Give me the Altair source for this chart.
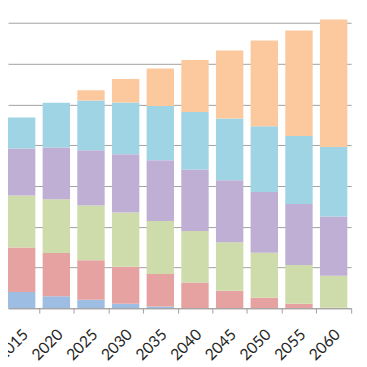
import altair as alt
import pandas as pd

years = [2010, 2015, 2020, 2025, 2030, 2035, 2040, 2045, 2050, 2055, 2060]
blue = [5.0, 4.0, 2.95, 2.1, 1.1, 0.4, 0.0, 0.0, 0.0, 0.0, 0.0]
red = [11.3, 10.9, 10.6, 9.7, 9.1, 8.0, 6.3, 4.3, 2.6, 1.1, 0.1]
green = [12.5, 12.8, 13.2, 13.4, 13.3, 13.0, 12.65, 11.9, 11.0, 9.5, 7.85]
purple = [10.8, 11.5, 12.7, 13.6, 14.3, 14.95, 15.1, 15.2, 14.95, 15.0, 14.55]
cyan = [5.0, 7.6, 11.0, 12.2, 12.7, 13.3, 14.1, 15.2, 16.1, 16.7, 17.1]
orange = [0.0, 0.0, 0.0, 2.5, 5.75, 9.2, 12.8, 16.65, 21.05, 25.85, 31.3]

series_names = ["s1", "s2", "s3", "s4", "s5", "s6"]
series_values = [blue, red, green, purple, cyan, orange]
series_colors = ["#9dbde3", "#e6a2a1", "#cddcaa", "#bfafd4", "#9ed4e3", "#fcc99e"]

rows = []
for k, (name, vals) in enumerate(zip(series_names, series_values)):
    for yr, v in zip(years, vals):
        rows.append({"year": yr, "series": name, "order": k, "value": v})
df = pd.DataFrame(rows)

grid_values = [0, 10, 20, 30, 40, 50, 60, 70]

chart = (
    alt.Chart(df)
    .transform_stack(
        stack="value",
        groupby=["year"],
        as_=["v0", "v1"],
        sort=[alt.SortField("order", order="ascending")],
    )
    .transform_calculate(x0="datum.year - 1.975", x1="datum.year + 1.975")
    .mark_bar(clip=True)
    .encode(
        x=alt.X(
            "x0:Q",
            scale=alt.Scale(domain=[2013.03, 2062.53], nice=False, zero=False),
            axis=alt.Axis(
                values=years[1:],
                format="d",
                title=None,
                grid=False,
                domainColor="#a0a0a0",
                tickColor="#a0a0a0",
                tickSize=5,
                tickOffset=17.75,
                labelOffset=-14,
                labelAngle=-45,
                labelAlign="right",
                labelBaseline="middle",
                labelPadding=19,
                labelFont="Lato",
                labelFontSize=16,
                labelColor="#262626",
                labelOverlap=False,
                labelFlush=False,
                labelBound=False,
            ),
        ),
        x2="x1:Q",
        y=alt.Y(
            "v0:Q",
            scale=alt.Scale(domain=[0, 72.72], nice=False),
            axis=alt.Axis(
                values=grid_values,
                grid=True,
                gridColor="#a0a0a0",
                gridWidth=1,
                labels=False,
                ticks=False,
                domain=False,
                title=None,
            ),
        ),
        y2="v1:Q",
        color=alt.Color(
            "series:N",
            scale=alt.Scale(domain=series_names, range=series_colors),
            legend=None,
        ),
    )
    .properties(
        width=351,
        height=303,
        autosize=alt.AutoSizeParams(type="none"),
        padding={"left": 0, "top": 0, "right": 8, "bottom": 56},
    )
    .configure_view(stroke=None)
)

chart.save("out.html", embed_options={"renderer": "svg", "actions": False})
